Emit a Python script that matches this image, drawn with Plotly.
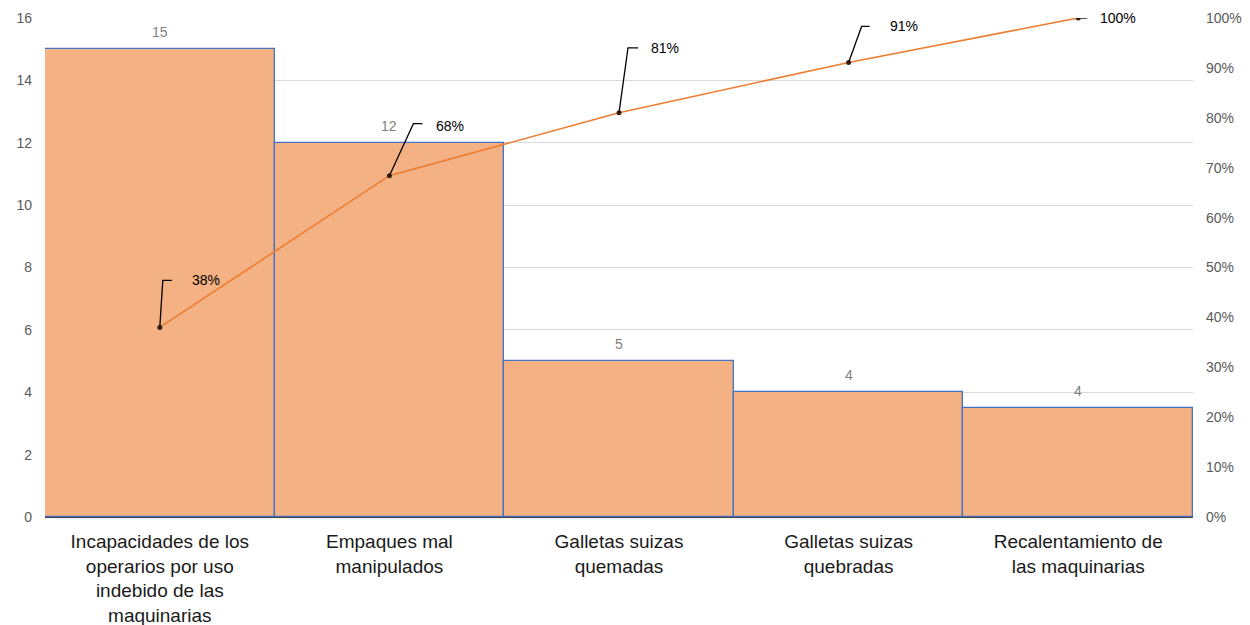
import plotly.graph_objects as go

# Pareto data: defect causes, occurrences and cumulative share
categories = [
    "Incapacidades de los<br>operarios por uso<br>indebido de las<br>maquinarias",
    "Empaques mal<br>manipulados",
    "Galletas suizas<br>quemadas",
    "Galletas suizas<br>quebradas",
    "Recalentamiento de<br>las maquinarias",
]
occurrences = [15, 12, 5, 4, 3.5]
cumulative_pct = [38.0, 68.4, 81.0, 91.1, 100.0]

left_ticks = [0, 2, 4, 6, 8, 10, 12, 14, 16]
right_ticks = [0, 0.1, 0.2, 0.3, 0.4, 0.5, 0.6, 0.7, 0.8, 0.9, 1.0]

# Callout geometry (pixels relative to each line point): elbow top, elbow end, label start
callouts = [
    (3, 47, 12, 30, 47),
    (24, 52, 33, 45, 50),
    (9, 65, 19, 30, 65),
    (13, 36, 21, 39, 36),
    (0, 0, 9, 20, 0),
]

xpos = list(range(len(categories)))
FONT = "Liberation Sans, Arial, sans-serif"

fig = go.Figure()

fig.add_trace(go.Bar(
    x=xpos, y=occurrences,
    width=1.0,
    marker=dict(color="#F4B183", line=dict(color="#4472C4", width=1.3)),
    hoverinfo="skip",
    showlegend=False,
))

fig.add_trace(go.Scatter(
    x=xpos, y=[p / 100 for p in cumulative_pct],
    yaxis="y2",
    mode="lines+markers",
    line=dict(color="#ED7D31", width=1.6),
    marker=dict(color="#3a2414", size=5),
    hoverinfo="skip",
    showlegend=False,
))

annotations = []
shapes = []

# Value labels above bars
for x, v in zip(xpos, occurrences):
    annotations.append(dict(
        x=x, y=v, xref="x", yref="y", text=f"{v:.0f}",
        showarrow=False, yshift=17,
        font=dict(family=FONT, size=14, color="#7F7F7F"),
    ))

# Cumulative percentage callouts with elbow leader lines
for x, p, (ex, ey, hx, tx, ty) in zip(xpos, cumulative_pct, callouts):
    if ey > 0:
        path = f"M0,0 L{ex},{ey} L{hx},{ey}"
    else:
        path = f"M0,0 L{hx},0"
    shapes.append(dict(
        type="path", xref="x", yref="y2",
        xsizemode="pixel", ysizemode="pixel",
        xanchor=x, yanchor=p / 100, path=path,
        line=dict(color="#000000", width=1.3), layer="above",
    ))
    annotations.append(dict(
        x=x, y=p / 100, xref="x", yref="y2", text=f"{p:.0f}%",
        showarrow=False, xanchor="left", yanchor="middle",
        xshift=tx, yshift=ty,
        font=dict(family=FONT, size=14, color="#000000"),
    ))

fig.update_layout(
    width=1250, height=625,
    margin=dict(l=45, r=57, t=18, b=108),
    paper_bgcolor="white", plot_bgcolor="white",
    bargap=0,
    font=dict(family=FONT),
    xaxis=dict(
        range=[-0.5, 4.5],
        tickmode="array", tickvals=xpos, ticktext=categories,
        tickfont=dict(family=FONT, size=19, color="#1a1a1a"),
        showgrid=False, zeroline=False,
        showline=True, linecolor="#404040", linewidth=1.3,
        ticks="", ticklabelstandoff=7, automargin=False,
        layer="above traces",
    ),
    yaxis=dict(
        range=[0, 16], tickmode="array", tickvals=left_ticks,
        tickfont=dict(family=FONT, size=14, color="#595959"),
        showgrid=True, gridcolor="#D9D9D9", gridwidth=1,
        zeroline=False, showline=False, ticks="", ticklabelstandoff=12,
        automargin=False,
    ),
    yaxis2=dict(
        range=[0, 1], overlaying="y", side="right",
        tickmode="array", tickvals=right_ticks, tickformat=".0%",
        tickfont=dict(family=FONT, size=14, color="#595959"),
        showgrid=False, zeroline=False, showline=False, ticks="",
        ticklabelstandoff=12, automargin=False,
    ),
    annotations=annotations,
    shapes=shapes,
)

fig.write_html("out.html")
